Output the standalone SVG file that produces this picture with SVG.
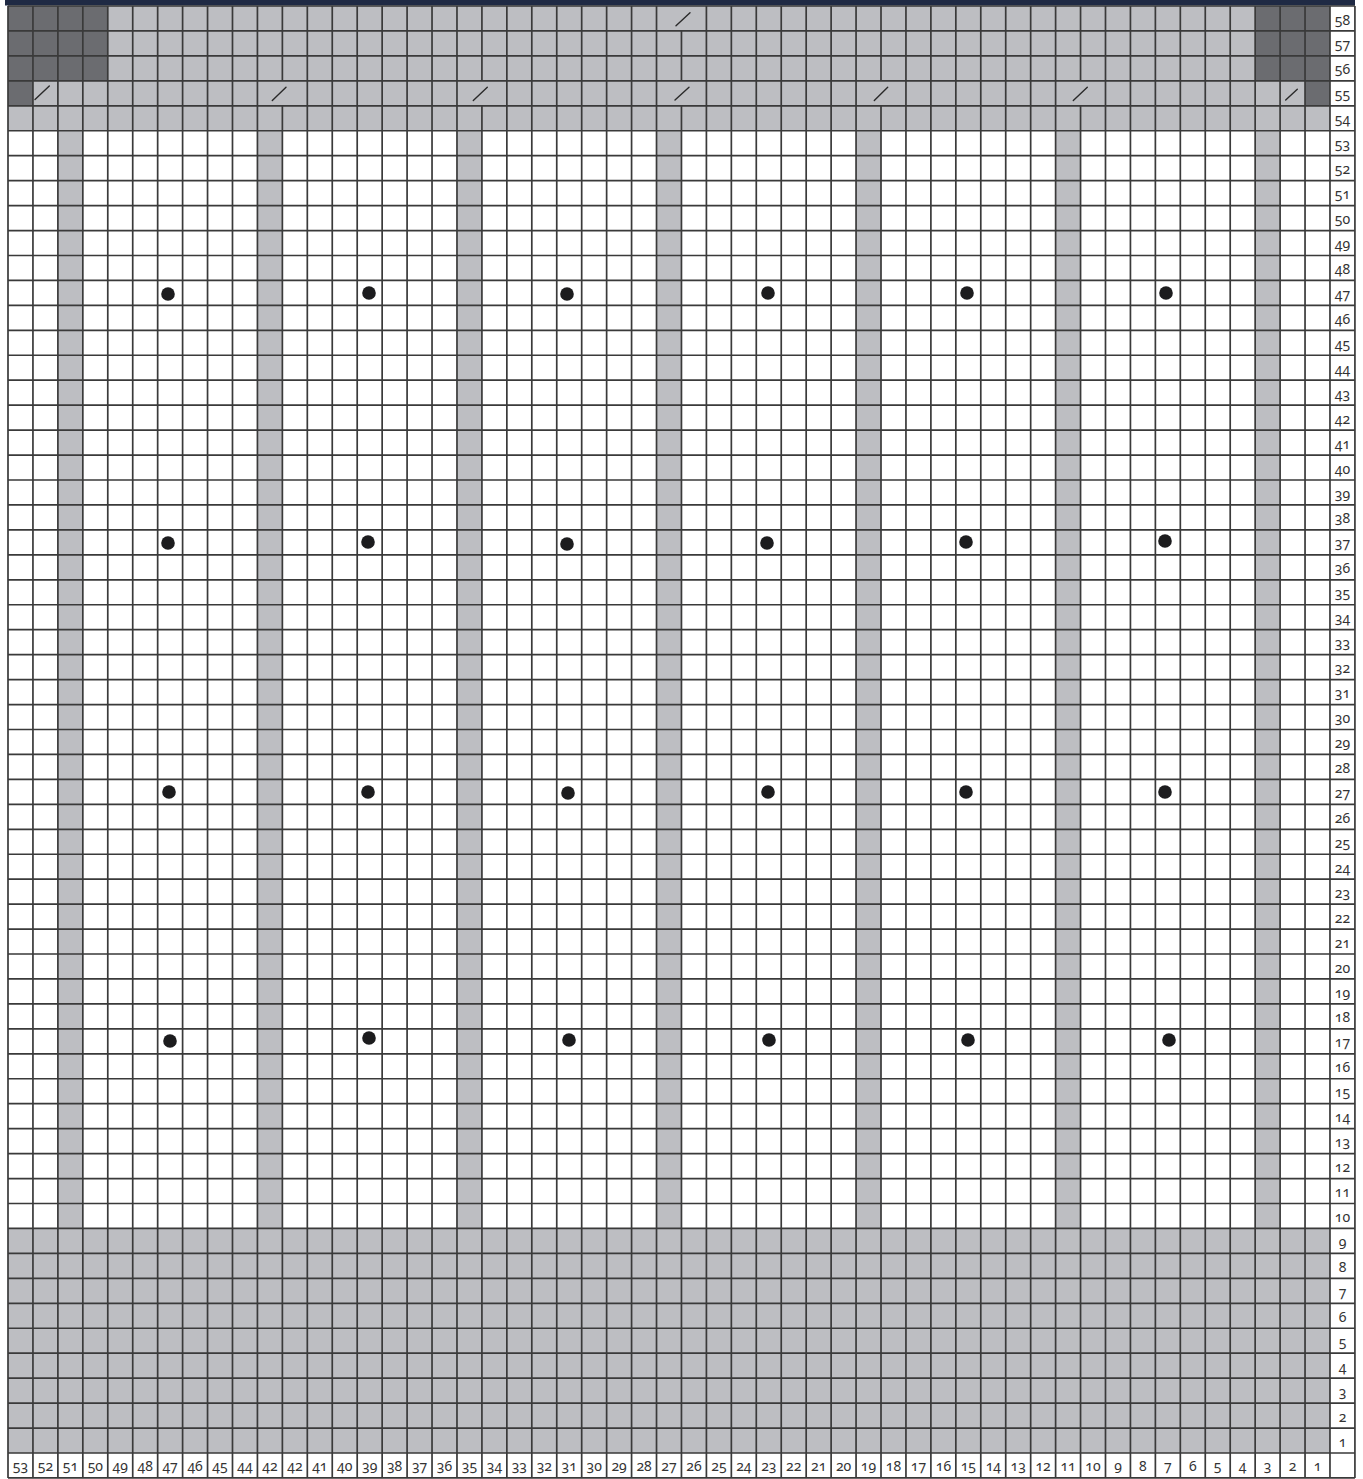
<svg xmlns="http://www.w3.org/2000/svg" width="1363" height="1479" viewBox="0 0 1363 1479">
<style>
.lg{fill:#bdbec2}
.dg{fill:#6b6c70}
.gl{fill:none;stroke:#3a3a3a;stroke-width:1.7;vector-effect:non-scaling-stroke}
.sl{stroke:#2a2a2a;stroke-width:1.4;stroke-linecap:round;fill:none}
.dot{fill:#1c1c1e}
.lb{font-family:"Noto Sans","Open Sans",sans-serif;font-size:14px;fill:#333;text-anchor:middle;font-variant-numeric:oldstyle-nums}
</style>
<rect width="1363" height="1479" fill="#fff"/>
<rect id="top-bar" x="5" y="0" width="1350" height="5.5" fill="#1f2a44"/>
<g id="grid" transform="translate(8,6) scale(24.943,24.948)">
  <g id="fills">
    <rect x="0" y="0" width="54" height="59" fill="#fff"/>
    <rect class="lg" x="0" y="0" width="53" height="5"/>
    <rect class="lg" x="0" y="49" width="53" height="9"/>
    <rect class="lg" x="2" y="5" width="1" height="44"/>
    <rect class="lg" x="10" y="5" width="1" height="44"/>
    <rect class="lg" x="18" y="5" width="1" height="44"/>
    <rect class="lg" x="26" y="5" width="1" height="44"/>
    <rect class="lg" x="34" y="5" width="1" height="44"/>
    <rect class="lg" x="42" y="5" width="1" height="44"/>
    <rect class="lg" x="50" y="5" width="1" height="44"/>
    <rect class="dg" x="0" y="0" width="4" height="3"/>
    <rect class="dg" x="0" y="3" width="1" height="1"/>
    <rect class="dg" x="50" y="0" width="3" height="3"/>
    <rect class="dg" x="52" y="3" width="1" height="1"/>
  </g>
  <path id="h-lines" class="gl" d="M0 0H54M0 1H54M0 2H54M0 3H54M0 4H54M0 5H54M0 6H54M0 7H54M0 8H54M0 9H54M0 10H54M0 11H54M0 12H54M0 13H54M0 14H54M0 15H54M0 16H54M0 17H54M0 18H54M0 19H54M0 20H54M0 21H54M0 22H54M0 23H54M0 24H54M0 25H54M0 26H54M0 27H54M0 28H54M0 29H54M0 30H54M0 31H54M0 32H54M0 33H54M0 34H54M0 35H54M0 36H54M0 37H54M0 38H54M0 39H54M0 40H54M0 41H54M0 42H54M0 43H54M0 44H54M0 45H54M0 46H54M0 47H54M0 48H54M0 49H54M0 50H54M0 51H54M0 52H54M0 53H54M0 54H54M0 55H54M0 56H54M0 57H54M0 58H54M0 59H54"/>
  <path id="v-lines" class="gl" d="M0 0V59M1 0V59M2 0V59M3 0V59M4 0V59M5 0V59M6 0V59M7 0V59M8 0V59M9 0V59M10 0V59M11 0V3M11 4V59M12 0V59M13 0V59M14 0V59M15 0V59M16 0V59M17 0V59M18 0V59M19 0V3M19 4V59M20 0V59M21 0V59M22 0V59M23 0V59M24 0V59M25 0V59M26 0V59M27 1V3M27 4V59M28 0V59M29 0V59M30 0V59M31 0V59M32 0V59M33 0V59M34 0V59M35 0V3M35 4V59M36 0V59M37 0V59M38 0V59M39 0V59M40 0V59M41 0V59M42 0V59M43 0V3M43 4V59M44 0V59M45 0V59M46 0V59M47 0V59M48 0V59M49 0V59M50 0V59M51 0V59M52 0V59M53 0V59M54 0V59"/>
</g>
<g id="slashes">
  <path class="sl" d="M35 99.5L49.3 86"/>
  <path class="sl" d="M1285.7 100L1297.3 89.3"/>
  <path class="sl" d="M272.3 100.5L286 87.3"/>
  <path class="sl" d="M473.3 100.5L487.3 87.3"/>
  <path class="sl" d="M675 100L689 87.3"/>
  <path class="sl" d="M874.3 100.5L887.7 87.3"/>
  <path class="sl" d="M1073.3 100.5L1087.3 87.3"/>
  <path class="sl" d="M676 25.7L690 12.7"/>
</g>
<g id="dots">
  <circle class="dot" cx="168" cy="294" r="6.8"/>
  <circle class="dot" cx="369" cy="293" r="6.8"/>
  <circle class="dot" cx="567" cy="294" r="6.8"/>
  <circle class="dot" cx="768" cy="293" r="6.8"/>
  <circle class="dot" cx="967" cy="293" r="6.8"/>
  <circle class="dot" cx="1166" cy="293" r="6.8"/>
  <circle class="dot" cx="168" cy="543" r="6.8"/>
  <circle class="dot" cx="368" cy="542" r="6.8"/>
  <circle class="dot" cx="567" cy="544" r="6.8"/>
  <circle class="dot" cx="767" cy="543" r="6.8"/>
  <circle class="dot" cx="966" cy="542" r="6.8"/>
  <circle class="dot" cx="1165" cy="541" r="6.8"/>
  <circle class="dot" cx="169" cy="792" r="6.8"/>
  <circle class="dot" cx="368" cy="792" r="6.8"/>
  <circle class="dot" cx="568" cy="793" r="6.8"/>
  <circle class="dot" cx="768" cy="792" r="6.8"/>
  <circle class="dot" cx="966" cy="792" r="6.8"/>
  <circle class="dot" cx="1165" cy="792" r="6.8"/>
  <circle class="dot" cx="170" cy="1041" r="6.8"/>
  <circle class="dot" cx="369" cy="1038" r="6.8"/>
  <circle class="dot" cx="569" cy="1040" r="6.8"/>
  <circle class="dot" cx="769" cy="1040" r="6.8"/>
  <circle class="dot" cx="968" cy="1040" r="6.8"/>
  <circle class="dot" cx="1169" cy="1040" r="6.8"/>
</g>
<g id="row-labels" class="lb" transform="translate(0,-2)">
  <text x="1342.5" y="26.5">58</text>
  <text x="1342.5" y="51.4">57</text>
  <text x="1342.5" y="76.4">56</text>
  <text x="1342.5" y="101.3">55</text>
  <text x="1342.5" y="126.3">54</text>
  <text x="1342.5" y="151.2">53</text>
  <text x="1342.5" y="176.2">52</text>
  <text x="1342.5" y="201.1">51</text>
  <text x="1342.5" y="226.1">50</text>
  <text x="1342.5" y="251">49</text>
  <text x="1342.5" y="276">48</text>
  <text x="1342.5" y="300.9">47</text>
  <text x="1342.5" y="325.9">46</text>
  <text x="1342.5" y="350.8">45</text>
  <text x="1342.5" y="375.8">44</text>
  <text x="1342.5" y="400.7">43</text>
  <text x="1342.5" y="425.6">42</text>
  <text x="1342.5" y="450.6">41</text>
  <text x="1342.5" y="475.5">40</text>
  <text x="1342.5" y="500.5">39</text>
  <text x="1342.5" y="525.4">38</text>
  <text x="1342.5" y="550.4">37</text>
  <text x="1342.5" y="575.3">36</text>
  <text x="1342.5" y="600.3">35</text>
  <text x="1342.5" y="625.2">34</text>
  <text x="1342.5" y="650.2">33</text>
  <text x="1342.5" y="675.1">32</text>
  <text x="1342.5" y="700.1">31</text>
  <text x="1342.5" y="725">30</text>
  <text x="1342.5" y="750">29</text>
  <text x="1342.5" y="774.9">28</text>
  <text x="1342.5" y="799.9">27</text>
  <text x="1342.5" y="824.8">26</text>
  <text x="1342.5" y="849.8">25</text>
  <text x="1342.5" y="874.7">24</text>
  <text x="1342.5" y="899.7">23</text>
  <text x="1342.5" y="924.6">22</text>
  <text x="1342.5" y="949.6">21</text>
  <text x="1342.5" y="974.5">20</text>
  <text x="1342.5" y="999.5">19</text>
  <text x="1342.5" y="1024.4">18</text>
  <text x="1342.5" y="1049.3">17</text>
  <text x="1342.5" y="1074.3">16</text>
  <text x="1342.5" y="1099.2">15</text>
  <text x="1342.5" y="1124.2">14</text>
  <text x="1342.5" y="1149.1">13</text>
  <text x="1342.5" y="1174.1">12</text>
  <text x="1342.5" y="1199">11</text>
  <text x="1342.5" y="1224">10</text>
  <text x="1342.5" y="1248.9">9</text>
  <text x="1342.5" y="1273.9">8</text>
  <text x="1342.5" y="1298.8">7</text>
  <text x="1342.5" y="1323.8">6</text>
  <text x="1342.5" y="1348.7">5</text>
  <text x="1342.5" y="1373.7">4</text>
  <text x="1342.5" y="1398.6">3</text>
  <text x="1342.5" y="1423.6">2</text>
  <text x="1342.5" y="1448.5">1</text>
</g>
<g id="column-labels" class="lb">
  <text x="20.5" y="1471">53</text>
  <text x="45.4" y="1471">52</text>
  <text x="70.4" y="1471">51</text>
  <text x="95.3" y="1471">50</text>
  <text x="120.2" y="1471">49</text>
  <text x="145.2" y="1471">48</text>
  <text x="170.1" y="1471">47</text>
  <text x="195.1" y="1471">46</text>
  <text x="220" y="1471">45</text>
  <text x="245" y="1471">44</text>
  <text x="269.9" y="1471">42</text>
  <text x="294.9" y="1471">42</text>
  <text x="319.8" y="1471">41</text>
  <text x="344.7" y="1471">40</text>
  <text x="369.7" y="1471">39</text>
  <text x="394.6" y="1471">38</text>
  <text x="419.6" y="1471">37</text>
  <text x="444.5" y="1471">36</text>
  <text x="469.5" y="1471">35</text>
  <text x="494.4" y="1471">34</text>
  <text x="519.3" y="1471">33</text>
  <text x="544.3" y="1471">32</text>
  <text x="569.2" y="1471">31</text>
  <text x="594.2" y="1471">30</text>
  <text x="619.1" y="1471">29</text>
  <text x="644.1" y="1471">28</text>
  <text x="669" y="1471">27</text>
  <text x="693.9" y="1471">26</text>
  <text x="718.9" y="1471">25</text>
  <text x="743.8" y="1471">24</text>
  <text x="768.8" y="1471">23</text>
  <text x="793.7" y="1471">22</text>
  <text x="818.7" y="1471">21</text>
  <text x="843.6" y="1471">20</text>
  <text x="868.5" y="1471">19</text>
  <text x="893.5" y="1471">18</text>
  <text x="918.4" y="1471">17</text>
  <text x="943.4" y="1471">16</text>
  <text x="968.3" y="1471">15</text>
  <text x="993.3" y="1471">14</text>
  <text x="1018.2" y="1471">13</text>
  <text x="1043.1" y="1471">12</text>
  <text x="1068.1" y="1471">11</text>
  <text x="1093" y="1471">10</text>
  <text x="1118" y="1471">9</text>
  <text x="1142.9" y="1471">8</text>
  <text x="1167.9" y="1471">7</text>
  <text x="1192.8" y="1471">6</text>
  <text x="1217.7" y="1471">5</text>
  <text x="1242.7" y="1471">4</text>
  <text x="1267.6" y="1471">3</text>
  <text x="1292.6" y="1471">2</text>
  <text x="1317.5" y="1471">1</text>
</g>
</svg>
